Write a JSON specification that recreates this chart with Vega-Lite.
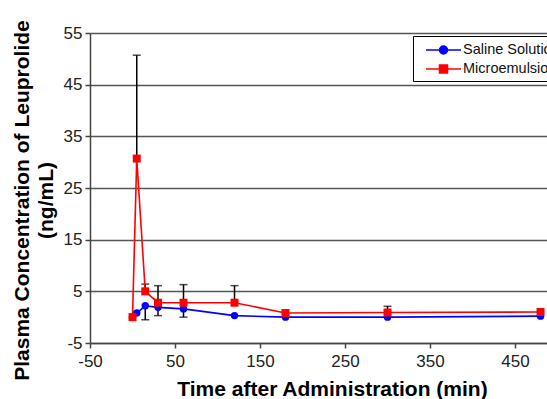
{
  "$schema": "https://vega.github.io/schema/vega-lite/v6.json",
  "width": 457,
  "height": 310,
  "autosize": "none",
  "padding": {"left": 90, "top": 33, "right": 0, "bottom": 56},
  "background": "white",
  "config": {"view": {"stroke": null}, "font": "Liberation Sans"},
  "datasets": {
    "pk": [
      {"time": 0, "series": "Saline Solution", "conc": 0},
      {"time": 5, "series": "Saline Solution", "conc": 0.8},
      {"time": 15, "series": "Saline Solution", "conc": 2.2},
      {"time": 30, "series": "Saline Solution", "conc": 1.9},
      {"time": 60, "series": "Saline Solution", "conc": 1.6},
      {"time": 120, "series": "Saline Solution", "conc": 0.3},
      {"time": 180, "series": "Saline Solution", "conc": 0.0},
      {"time": 300, "series": "Saline Solution", "conc": 0.0},
      {"time": 480, "series": "Saline Solution", "conc": 0.2},
      {"time": 0, "series": "Microemulsion", "conc": 0},
      {"time": 5, "series": "Microemulsion", "conc": 30.7},
      {"time": 15, "series": "Microemulsion", "conc": 5.0},
      {"time": 30, "series": "Microemulsion", "conc": 2.8},
      {"time": 60, "series": "Microemulsion", "conc": 2.8},
      {"time": 120, "series": "Microemulsion", "conc": 2.8},
      {"time": 180, "series": "Microemulsion", "conc": 0.8},
      {"time": 300, "series": "Microemulsion", "conc": 0.9},
      {"time": 480, "series": "Microemulsion", "conc": 1.0}
    ],
    "err": [
      {"time": 5, "series": "Microemulsion", "lo": 30.7, "hi": 50.7, "cap": 50.7},
      {"time": 15, "series": "Microemulsion", "lo": 5.0, "hi": 6.4, "cap": 6.4},
      {"time": 30, "series": "Microemulsion", "lo": 2.8, "hi": 6.1, "cap": 6.1},
      {"time": 60, "series": "Microemulsion", "lo": 2.8, "hi": 6.3, "cap": 6.3},
      {"time": 120, "series": "Microemulsion", "lo": 2.8, "hi": 6.1, "cap": 6.1},
      {"time": 300, "series": "Microemulsion", "lo": 0.9, "hi": 2.1, "cap": 2.1},
      {"time": 15, "series": "Saline Solution", "lo": -0.5, "hi": 2.2, "cap": -0.5},
      {"time": 30, "series": "Saline Solution", "lo": 0.3, "hi": 1.9, "cap": 0.3},
      {"time": 60, "series": "Saline Solution", "lo": 0.0, "hi": 1.6, "cap": 0.0}
    ]
  },
  "encoding": {
    "x": {
      "field": "time",
      "type": "quantitative",
      "scale": {"domain": [-50, 487.6], "nice": false, "zero": false},
      "axis": {
        "values": [-50, 50, 150, 250, 350, 450],
        "labelExpr": "'' + datum.value",
        "grid": false,
        "domainColor": "#444444",
        "domainWidth": 1.5,
        "tickColor": "#444444",
        "tickWidth": 1.5,
        "tickSize": 5,
        "labelFontSize": 17,
        "labelColor": "#222222",
        "labelPadding": 5,
        "labelFlush": false,
        "title": "Time after Administration (min)",
        "titleFontSize": 21,
        "titleFontWeight": "bold",
        "titleColor": "#000000",
        "titleX": 242,
        "titleY": 52,
        "titleAlign": "center",
        "titleBaseline": "alphabetic"
      }
    },
    "y": {
      "type": "quantitative",
      "scale": {"domain": [-5, 55], "nice": false, "zero": false},
      "axis": {
        "values": [-5, 5, 15, 25, 35, 45, 55],
        "labelExpr": "'' + datum.value",
        "grid": true,
        "gridColor": "#555555",
        "gridWidth": 1.5,
        "domainColor": "#444444",
        "domainWidth": 1.5,
        "tickColor": "#444444",
        "tickWidth": 1.5,
        "tickSize": 5,
        "labelFontSize": 17,
        "labelColor": "#222222",
        "labelPadding": 3,
        "labelFlush": false,
        "title": ["Plasma Concentration of Leuprolide", "(ng/mL)"],
        "titleFontSize": 21,
        "titleFontWeight": "bold",
        "titleColor": "#000000",
        "titleAngle": 270,
        "titleAlign": "center",
        "titleBaseline": "top",
        "titleLineHeight": 24,
        "titleX": -79,
        "titleY": 167
      }
    }
  },
  "layer": [
    {
      "data": {"name": "err"},
      "mark": {"type": "rule", "color": "black", "strokeWidth": 1.5},
      "encoding": {
        "y": {"field": "lo", "type": "quantitative"},
        "y2": {"field": "hi"}
      }
    },
    {
      "data": {"name": "err"},
      "mark": {"type": "tick", "color": "black", "orient": "horizontal", "size": 8, "thickness": 1.5},
      "encoding": {
        "y": {"field": "cap", "type": "quantitative"}
      }
    },
    {
      "data": {"name": "pk"},
      "transform": [{"filter": "datum.series == 'Saline Solution'"}],
      "mark": {"type": "line", "strokeWidth": 1.6, "color": "#0000ff"},
      "encoding": {
        "y": {"field": "conc", "type": "quantitative"}
      }
    },
    {
      "data": {"name": "pk"},
      "transform": [{"filter": "datum.series == 'Microemulsion'"}],
      "mark": {"type": "line", "strokeWidth": 1.6, "color": "#ff0000"},
      "encoding": {
        "y": {"field": "conc", "type": "quantitative"}
      }
    },
    {
      "data": {"name": "pk"},
      "transform": [{"filter": "datum.series == 'Saline Solution'"}],
      "mark": {"type": "point", "filled": true, "opacity": 1, "shape": "circle", "size": 55, "color": "#0000ff"},
      "encoding": {
        "y": {"field": "conc", "type": "quantitative"}
      }
    },
    {
      "data": {"name": "pk"},
      "transform": [{"filter": "datum.series == 'Microemulsion'"}],
      "mark": {"type": "point", "filled": true, "opacity": 1, "shape": "square", "size": 64, "color": "#ff0000"},
      "encoding": {
        "y": {"field": "conc", "type": "quantitative"}
      }
    },
    {
      "data": {"name": "pk"},
      "transform": [{"filter": "datum.conc > 1000"}],
      "mark": {"type": "point", "filled": true, "opacity": 1, "fillOpacity": 1, "strokeOpacity": 1},
      "encoding": {
        "y": {"field": "conc", "type": "quantitative"},
        "fill": {
          "field": "series",
          "type": "nominal",
          "scale": {"domain": ["Saline Solution", "Microemulsion"], "range": ["#0000ff", "#ff0000"]},
          "legend": {
            "title": null,
            "orient": "none",
            "legendX": 323,
            "legendY": 3,
            "padding": 5,
            "strokeColor": "#000000",
            "fillColor": "#ffffff",
            "labelFontSize": 14.5,
            "labelColor": "#111111",
            "labelOffset": 27,
            "symbolSize": 256,
            "symbolStrokeWidth": 1.5,
            "symbolOpacity": 1,
            "rowPadding": 3,
            "labelLimit": 300
          }
        },
        "stroke": {
          "field": "series",
          "type": "nominal",
          "scale": {"domain": ["Saline Solution", "Microemulsion"], "range": ["#0000ff", "#ff0000"]}
        },
        "shape": {
          "field": "series",
          "type": "nominal",
          "scale": {
            "domain": ["Saline Solution", "Microemulsion"],
            "range": [
              "M-0.125,0H4.25M1.5625,0A0.5,0.5 0 1,1 2.5625,0A0.5,0.5 0 1,1 1.5625,0Z",
              "M-0.125,0H4.25M1.5625,-0.5H2.5625V0.5H1.5625Z"
            ]
          }
        }
      }
    }
  ]
}
